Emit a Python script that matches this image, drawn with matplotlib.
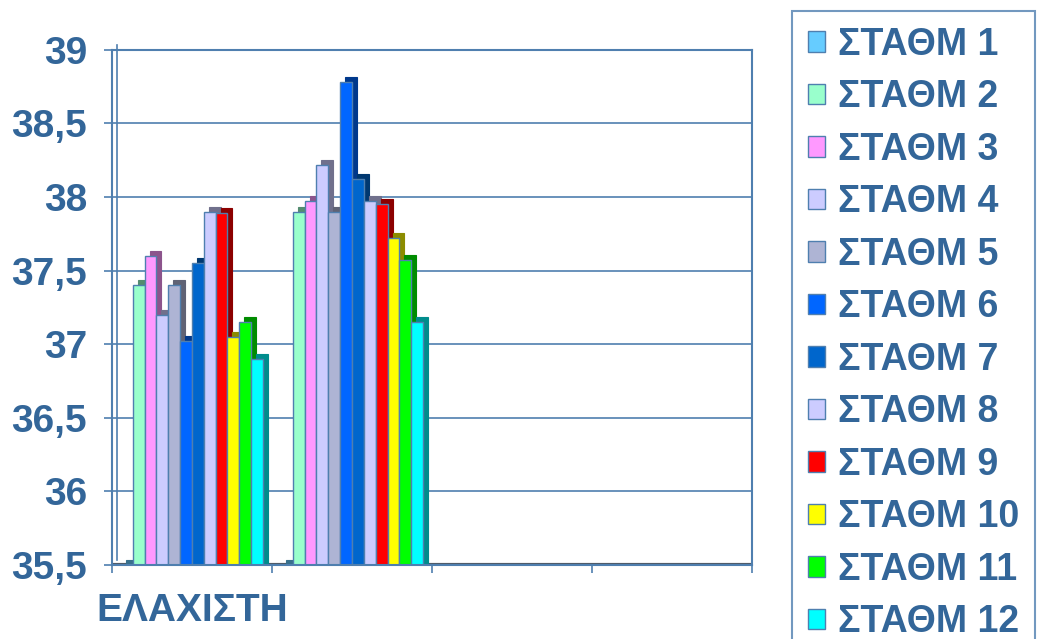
import matplotlib.pyplot as plt
import matplotlib.transforms as mtransforms
import numpy as np

categories = ['ΕΛΑΧΙΣΤΗ', '', '', '']
stations = ['ΣΤΑΘΜ 1', 'ΣΤΑΘΜ 2', 'ΣΤΑΘΜ 3', 'ΣΤΑΘΜ 4', 'ΣΤΑΘΜ 5', 'ΣΤΑΘΜ 6',
            'ΣΤΑΘΜ 7', 'ΣΤΑΘΜ 8', 'ΣΤΑΘΜ 9', 'ΣΤΑΘΜ 10', 'ΣΤΑΘΜ 11', 'ΣΤΑΘΜ 12']
group1 = [35.5, 37.4, 37.6, 37.2, 37.4, 37.02, 37.55, 37.9, 37.89, 37.05, 37.15, 36.9]
group2 = [35.5, 37.9, 37.97, 38.22, 37.9, 38.78, 38.12, 37.97, 37.95, 37.72, 37.57, 37.15]
group3 = [np.nan] * 12
group4 = [np.nan] * 12
yticks = [35.5, 36, 36.5, 37, 37.5, 38, 38.5, 39]

colors = ['#66CCFF', '#99FFCC', '#FF99FF', '#CCCCFF', '#AEB4D4', '#0066FF',
          '#0066CC', '#CCCCFF', '#FF0000', '#FFFF00', '#00FF00', '#00FFFF']
txt = '#336699'
line = '#4F7FAF'
font = 'Liberation Sans'

values = np.array([group1, group2, group3, group4]).T

fig = plt.figure(figsize=(10.46, 6.39), dpi=100)
ax = fig.add_axes([0.107, 0.116, 0.612, 0.806])

x = np.arange(len(categories))
w = 0.074
depth = mtransforms.ScaledTranslation(0.05, 0.05, fig.dpi_scale_trans)

def darker(c, f=0.55):
    r, g, b = plt.matplotlib.colors.to_rgb(c)
    return (r * f, g * f, b * f)

handles = []
for i, name in enumerate(stations):
    pos = x + (i - 5.5) * w
    # side/top face of the 3d look
    ax.bar(pos, values[i], w, color=darker(colors[i]), edgecolor=darker(colors[i]),
           linewidth=0.8, transform=ax.transData + depth, zorder=2 + i * 0.01)
    b = ax.bar(pos, values[i], w, color=colors[i], edgecolor=line,
               linewidth=1, label=name, zorder=2.005 + i * 0.01)
    handles.append(b)

ax.axhline(35.5, color='#505a66', lw=3, zorder=1.5)
# back wall edge
ax.plot([-0.5, -0.5], [0, 1], color=line, lw=1.2, zorder=0, clip_on=False,
        transform=ax.get_xaxis_transform() + depth)

ax.set_ylim(35.5, 39)
ax.set_xlim(-0.5, 3.5)
ax.set_yticks(yticks)
ax.set_yticklabels([('%g' % v).replace('.', ',') for v in yticks])
ax.set_xticks(x)
ax.set_xticklabels(categories)
ax.set_xticks(np.arange(-0.5, 4, 1), minor=True)
ax.tick_params(axis='x', which='major', length=0, pad=20)
ax.tick_params(axis='x', which='minor', length=6, color=line, width=1.2, direction='out')
ax.tick_params(axis='y', length=6, color=line, width=1.2, pad=12)
for lab in ax.get_xticklabels() + ax.get_yticklabels():
    lab.set_fontfamily(font)
    lab.set_fontweight('bold')
    lab.set_fontsize(28)
    lab.set_color(txt)

ax.grid(axis='y', color=line, lw=1.2, zorder=0)
ax.set_axisbelow(True)
for s in ax.spines.values():
    s.set_color(line)
    s.set_linewidth(1.5)

leg = fig.legend(handles=handles, loc='upper left',
                 bbox_to_anchor=(792 / 1046, 1 - 11 / 639), borderaxespad=0,
                 prop={'family': font, 'weight': 'bold', 'size': 27},
                 handlelength=0.46, handleheight=0.46, handletextpad=0.35,
                 labelspacing=0.44, borderpad=0.42, fancybox=False, frameon=True)
leg.get_frame().set_edgecolor(line)
leg.get_frame().set_linewidth(1.5)
for t in leg.get_texts():
    t.set_color(txt)

fig.savefig('out.png', dpi=100)
